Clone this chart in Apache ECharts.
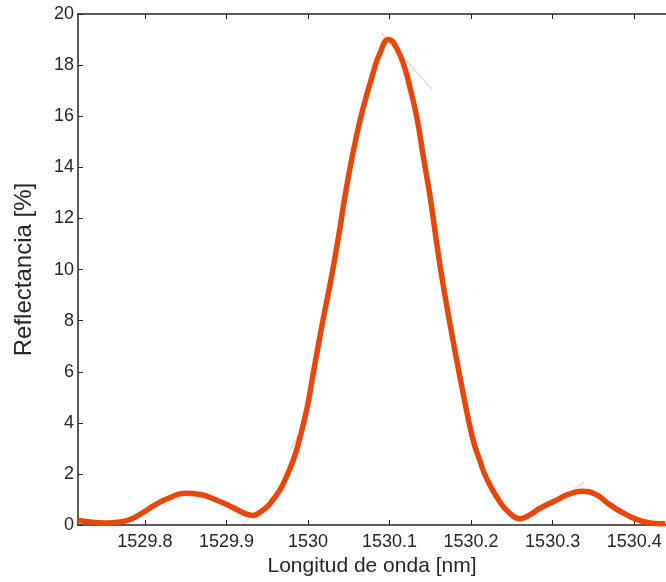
<!DOCTYPE html>
<html>
<head>
<meta charset="utf-8">
<script src="https://cdn.jsdelivr.net/npm/echarts@6/dist/echarts.min.js"></script>
<style>
  html, body { margin: 0; padding: 0; background: #fff; }
  #chart { width: 666px; height: 582px; }
</style>
</head>
<body>
<div id="chart"></div>
<script>
// Wavelength samples (nm) and reflectance (%) of the grating spectrum
const wavelength = [
  1529.718, 1529.733, 1529.749, 1529.763, 1529.782, 1529.798, 1529.812, 1529.831,
  1529.849, 1529.868, 1529.886, 1529.904, 1529.923, 1529.933, 1529.941, 1529.950,
  1529.957, 1529.963, 1529.969, 1529.982, 1529.990, 1529.999, 1530.006, 1530.018,
  1530.027, 1530.036, 1530.048, 1530.058, 1530.064, 1530.070, 1530.080, 1530.088,
  1530.099, 1530.109, 1530.119, 1530.126, 1530.134, 1530.141, 1530.150, 1530.158,
  1530.166, 1530.178, 1530.190, 1530.202, 1530.211, 1530.219, 1530.235, 1530.248,
  1530.260, 1530.272, 1530.284, 1530.303, 1530.319, 1530.336, 1530.352, 1530.370,
  1530.391, 1530.411, 1530.431, 1530.438
];
const reflectance = [
  0.18, 0.12, 0.08, 0.10, 0.22, 0.50, 0.78, 1.08,
  1.25, 1.20, 1.00, 0.75, 0.45, 0.38, 0.50, 0.72,
  0.98, 1.25, 1.57, 2.55, 3.40, 4.60, 5.85, 7.95,
  9.40, 11.00, 13.35, 15.00, 15.85, 16.60, 17.70, 18.45,
  19.00, 18.65, 17.85, 17.00, 15.87, 14.50, 12.80, 11.00,
  9.35, 7.20, 5.20, 3.39, 2.50, 1.83, 0.92, 0.45,
  0.25, 0.40, 0.65, 0.95, 1.20, 1.32, 1.22, 0.80,
  0.40, 0.14, 0.05, 0.05
];

// Short stray trace segments, drawn faintly: [x0, y0, x1, y1]
const straySegments = [
  [1530.090, 19.25, 1530.152, 17.06],
  [1529.980, 3.00, 1529.988, 3.52],
  [1530.327, 1.44, 1530.339, 1.68],
  [1529.921, 0.05, 1529.933, 0.45]
];

const xTickValues = [1529.8, 1529.9, 1530, 1530.1, 1530.2, 1530.3, 1530.4];
const xMin = 1529.718, xMax = 1530.439;
const yMin = 0, yMax = 20, yStep = 2;

const axisColor = '#262626';
const font = 'Liberation Sans, Arial, Helvetica, sans-serif';

const chart = echarts.init(document.getElementById('chart'), null, { renderer: 'canvas' });

const mainData = wavelength.map((w, i) => [w, reflectance[i]]);

const straySeries = straySegments.map(s => ({
  type: 'line',
  data: [[s[0], s[1]], [s[2], s[3]]],
  symbol: 'none',
  silent: true,
  lineStyle: { color: '#F4A48A', width: 1, opacity: 0.7 },
  z: 1
}));

chart.setOption({
  animation: false,
  backgroundColor: '#ffffff',
  grid: { left: 78, top: 14, right: 0, bottom: 55, containLabel: false },
  xAxis: [
    {
      type: 'value',
      min: xMin, max: xMax,
      position: 'bottom',
      name: 'Longitud de onda [nm]',
      nameLocation: 'middle',
      nameGap: 30,
      nameTextStyle: { color: axisColor, fontFamily: font, fontSize: 21 },
      axisLine: { show: true, onZero: false, lineStyle: { color: axisColor, width: 1.5 } },
      axisTick: { show: true, inside: true, length: 5, customValues: xTickValues, lineStyle: { color: axisColor } },
      axisLabel: {
        show: true, customValues: xTickValues, margin: 8,
        color: axisColor, fontFamily: font, fontSize: 18,
        formatter: v => String(Math.round(v * 10) / 10)
      },
      splitLine: { show: false }
    },
    {
      type: 'value',
      min: xMin, max: xMax,
      position: 'top',
      axisLine: { show: true, onZero: false, lineStyle: { color: axisColor, width: 1.5 } },
      axisTick: { show: true, inside: true, length: 5, customValues: xTickValues, lineStyle: { color: axisColor } },
      axisLabel: { show: false },
      splitLine: { show: false }
    }
  ],
  yAxis: {
    type: 'value',
    min: yMin, max: yMax, interval: yStep,
    name: 'Reflectancia [%]',
    nameLocation: 'middle',
    nameGap: 42,
    nameRotate: 90,
    nameTextStyle: { color: axisColor, fontFamily: font, fontSize: 24 },
    axisLine: { show: true, onZero: false, lineStyle: { color: axisColor, width: 1.5 } },
    axisTick: { show: true, inside: true, length: 5, lineStyle: { color: axisColor } },
    axisLabel: { color: axisColor, fontFamily: font, fontSize: 18, margin: 4 },
    splitLine: { show: false }
  },
  series: [
    ...straySeries,
    {
      type: 'line',
      data: mainData,
      smooth: 0.5,
      symbol: 'none',
      clip: true,
      lineStyle: { color: '#E8470B', width: 5.5 },
      z: 2
    }
  ]
});
</script>
</body>
</html>
